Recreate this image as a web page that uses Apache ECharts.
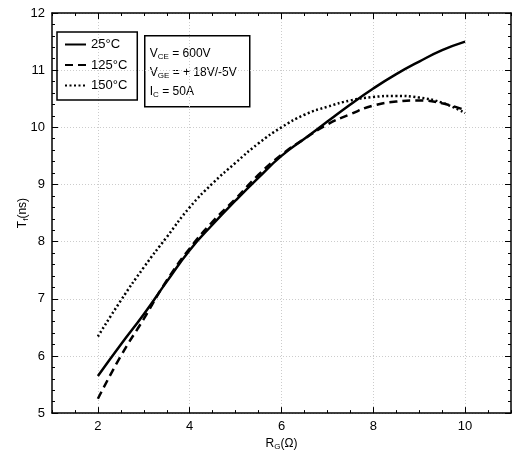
<!DOCTYPE html>
<html>
<head>
<meta charset="utf-8">
<script src="https://cdn.jsdelivr.net/npm/echarts@6/dist/echarts.min.js"></script>
<style>
    html, body { margin: 0; padding: 0; background: #fff; }
    #chart { width: 513px; height: 456px; }
</style>
</head>
<body>
<div id="chart"></div>
<script>
// gate resistance (ohm)
var rg = [2, 2.5, 3, 3.5, 4, 4.5, 5, 5.5, 6, 6.5, 7, 7.5, 8, 8.5, 9, 9.5, 10];
// fall time (ns) per junction temperature
var tf25  = [5.65, 6.2, 6.73, 7.3, 7.85, 8.3, 8.72, 9.12, 9.5, 9.8, 10.1, 10.4, 10.68, 10.93, 11.15, 11.35, 11.5];
var tf125 = [5.25, 6.0, 6.65, 7.32, 7.88, 8.35, 8.75, 9.17, 9.52, 9.8, 10.05, 10.23, 10.38, 10.45, 10.47, 10.42, 10.3];
var tf150 = [6.34, 6.97, 7.55, 8.08, 8.6, 9.02, 9.38, 9.72, 10.0, 10.22, 10.36, 10.47, 10.53, 10.55, 10.52, 10.43, 10.25];
var seriesNames = ['25°C', '125°C', '150°C'];
var xMajor = [2, 4, 6, 8, 10];

var font = 'Liberation Sans Narrow, Liberation Sans, Arial, sans-serif';

function pairs(ys) {
    return rg.map(function (x, i) { return [x, ys[i]]; });
}

var chart = echarts.init(document.getElementById('chart'));

var majorX = function (pos, withLabel) {
    return {
        type: 'value', position: pos, min: 1, max: 11,
        axisLine: { show: true, onZero: false, lineStyle: { color: '#000', width: 1.5 } },
        axisTick: { show: true, inside: true, length: 6, customValues: xMajor, lineStyle: { color: '#000' } },
        axisLabel: { show: withLabel, customValues: xMajor, color: '#000', fontSize: 13, fontFamily: font, margin: 7 },
        splitLine: { show: withLabel, lineStyle: { color: '#ccc', type: [1, 2] } }
    };
};
var minorX = function (pos) {
    return {
        type: 'value', position: pos, min: 1, max: 11, interval: 0.5,
        axisLine: { show: false },
        axisTick: { show: true, inside: true, length: 3, lineStyle: { color: '#000' } },
        axisLabel: { show: false },
        splitLine: { show: false }
    };
};
var yAxisOf = function (pos, withLabel) {
    return {
        type: 'value', position: pos, min: 5, max: 12, interval: 1,
        axisLine: { show: true, onZero: false, lineStyle: { color: '#000', width: 1.5 } },
        axisTick: { show: true, inside: true, length: 6, lineStyle: { color: '#000' } },
        minorTick: { show: true, splitNumber: 5, length: 3, lineStyle: { color: '#000' } },
        axisLabel: { show: withLabel, color: '#000', fontSize: 13, fontFamily: font, margin: 7 },
        splitLine: { show: withLabel, lineStyle: { color: '#ccc', type: [1, 2] } }
    };
};

var nameStyle = {
    rich: {
        m: { fontSize: 12, fontFamily: font, color: '#000' },
        s: { fontSize: 8, fontFamily: font, color: '#000', verticalAlign: 'bottom', padding: [6, 0, 0, 0] }
    }
};
var xName = majorX('bottom', true);
xName.name = '{m|R}{s|G}{m|(Ω)}';
xName.nameLocation = 'middle';
xName.nameGap = 22;
xName.nameTextStyle = nameStyle;
var yName = yAxisOf('left', true);
yName.name = '{m|T}{s|f}{m|(ns)}';
yName.nameLocation = 'middle';
yName.nameGap = 22;
yName.nameMoveOverlap = false;
yName.nameTextStyle = nameStyle;

var lineTypes = ['solid', [8, 5], [2, 2.5]];
var datasets = [tf25, tf125, tf150];

var option = {
    animation: false,
    backgroundColor: '#fff',
    grid: { left: 52, right: 2, top: 13, bottom: 41 },
    legend: {
        orient: 'vertical', left: 57, top: 32,
        data: seriesNames,
        itemWidth: 21, itemHeight: 14, itemGap: 7.5,
        padding: [6, 10, 8, 7],
        borderColor: '#000', borderWidth: 1.5,
        itemStyle: { opacity: 0 },
        textStyle: { color: '#000', fontSize: 13, fontFamily: font }
    },
    xAxis: [xName, minorX('bottom'), majorX('top', false), minorX('top')],
    yAxis: [yName, yAxisOf('right', false)],
    graphic: [{
        type: 'group', left: 144, top: 35,
        children: [{
            type: 'rect',
            shape: { x: 0, y: 0, width: 105, height: 71 },
            style: { fill: '#fff', stroke: '#000', lineWidth: 1.5 }
        }, {
            type: 'text', x: 5, y: 8,
            style: {
                text: '{m|V}{s|CE}{m| = 600V}\n{m|V}{s|GE}{m| = + 18V/-5V}\n{m|I}{s|C}{m| = 50A}',
                rich: {
                    m: { fontSize: 12, fontFamily: font, fill: '#000', lineHeight: 19 },
                    s: { fontSize: 8, fontFamily: font, fill: '#000', lineHeight: 19, padding: [8, 0, 0, 0] }
                }
            }
        }]
    }],
    series: datasets.map(function (d, i) {
        return {
            name: seriesNames[i], type: 'line', smooth: true,
            xAxisIndex: 0, yAxisIndex: 0,
            showSymbol: false, symbol: 'none',
            data: pairs(d),
            lineStyle: { color: '#000', width: 2.5, type: lineTypes[i] },
            itemStyle: { color: '#000' }
        };
    })
};

chart.setOption(option);
</script>
</body>
</html>
